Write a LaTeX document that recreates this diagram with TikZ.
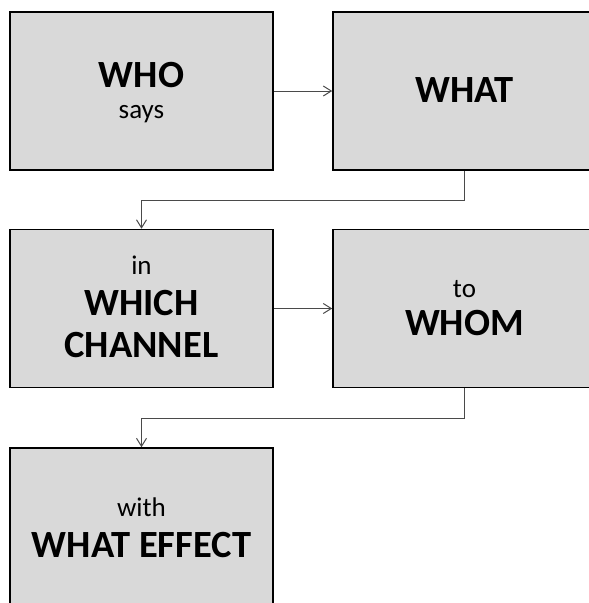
\documentclass[tikz,border=0pt]{standalone}
\usepackage{fontspec}
\setmainfont{Carlito}
\usetikzlibrary{arrows.meta}

\definecolor{boxfill}{HTML}{D9D9D9}
\definecolor{linkgray}{HTML}{4A4A4A}

\tikzset{
  stage/.style={draw=black, line width=1.6pt, fill=boxfill,
                minimum width=263pt, minimum height=158pt, inner sep=0pt},
  big/.style={font=\fontsize{38.5}{46}\selectfont\bfseries, anchor=base, inner sep=0pt},
  small/.style={font=\fontsize{27}{32}\selectfont, anchor=base, inner sep=0pt},
  link/.style={draw=linkgray, line width=1pt,
               -{Straight Barb[length=8pt,width=10pt]}}
}

\begin{document}
\begin{tikzpicture}[x=1pt, y=-1pt]
  \useasboundingbox (0,0) rectangle (589,603);
  \clip (0,0) rectangle (589,603);

  % the five stages of the chain
  \node[stage] (who)     at (141.5, 91)    {};
  \node[stage] (what)    at (464.5, 91)    {};
  \node[stage] (channel) at (141.5, 308.5) {};
  \node[stage] (whom)    at (464.5, 308.5) {};
  \node[stage] (effect)  at (141.5, 527)   {};

  % labels, placed on their baselines
  \node[big]   (whoA)   at (141.5, 87)    {WHO};
  \node[small] (whoB)   at (141.5, 118)   {says};
  \node[big]   (whatA)  at (464.5, 102)   {WHAT};
  \node[small] (chA)    at (141.5, 274)   {in};
  \node[big]   (chB)    at (141.5, 315)   {WHICH};
  \node[big]   (chC)    at (141.5, 357)   {CHANNEL};
  \node[small] (whomA)  at (464.5, 297)   {to};
  \node[big]   (whomB)  at (464.5, 335)   {WHOM};
  \node[small] (effA)   at (141.5, 516)   {with};
  \node[big]   (effB)   at (141.5, 557)   {WHAT EFFECT};

  % elbow levels between the rows
  \coordinate (row1) at (0, 200.5);
  \coordinate (row2) at (0, 418);

  % connectors
  \draw[link] (who) -- (what);
  \draw[link] (what.south) -- (what.south |- row1) -| (channel.north);
  \draw[link] (channel) -- (whom);
  \draw[link] (whom.south) -- (whom.south |- row2) -| (effect.north);
\end{tikzpicture}
\end{document}
